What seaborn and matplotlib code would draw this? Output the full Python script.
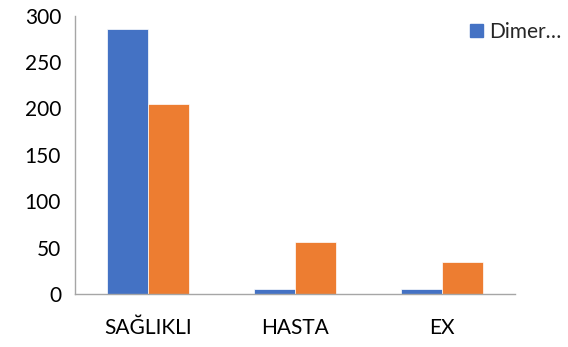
import numpy as np
import pandas as pd
import matplotlib
matplotlib.use("Agg")
import matplotlib.pyplot as plt
import seaborn as sns
from matplotlib.patches import Patch

# SECTION - DATA
categories = ["SAĞLIKLI", "HASTA", "EX"]
series_names = ["Dimer", "Diğer"]
dimer_values = [286, 5, 5]
other_values = [205, 56, 34.5]
colors = ["#4472C4", "#ED7D31"]

df = pd.DataFrame({
    "grup": categories * 2,
    "seri": [series_names[0]] * 3 + [series_names[1]] * 3,
    "deger": dimer_values + other_values,
})
# !SECTION

sns.set_style("white")
plt.rcParams["font.family"] = ["Lato", "DejaVu Sans"]

fig = plt.figure(figsize=(5.68, 3.47), dpi=100)
ax = fig.add_axes([0.132, 0.153, 0.775, 0.802])

sns.barplot(data=df, x="grup", y="deger", hue="seri", palette=colors,
            saturation=1, width=0.56, gap=0, edgecolor="white", linewidth=0.5,
            legend=False, ax=ax)

ax.set_xlim(-0.5, 2.5)
ax.set_ylim(0, 300)
ax.set_yticks(np.arange(0, 301, 50))
ax.set_xlabel("")
ax.set_ylabel("")

# category boundary ticks like the spreadsheet chart
ax.set_xticks([-0.5, 0.5, 1.5, 2.5], minor=True)
ax.tick_params(axis="x", which="major", length=0, pad=17, labelsize=15,
               labelcolor="black")
ax.tick_params(axis="x", which="minor", length=7, color="#A6A6A6", width=1)
ax.tick_params(axis="y", length=7, color="#A6A6A6", width=1, labelsize=15,
               labelcolor="black", pad=3)

for side in ["top", "right"]:
    ax.spines[side].set_visible(False)
for side in ["left", "bottom"]:
    ax.spines[side].set_color("#A6A6A6")
    ax.spines[side].set_linewidth(1)

fig.legend(handles=[Patch(color=colors[0])], labels=["Dimer…"],
           loc="upper left", bbox_to_anchor=(0.795, 0.99), frameon=False,
           fontsize=15, handlelength=0.6, handleheight=0.6, handletextpad=0.3)

fig.savefig("out.png", dpi=100)
